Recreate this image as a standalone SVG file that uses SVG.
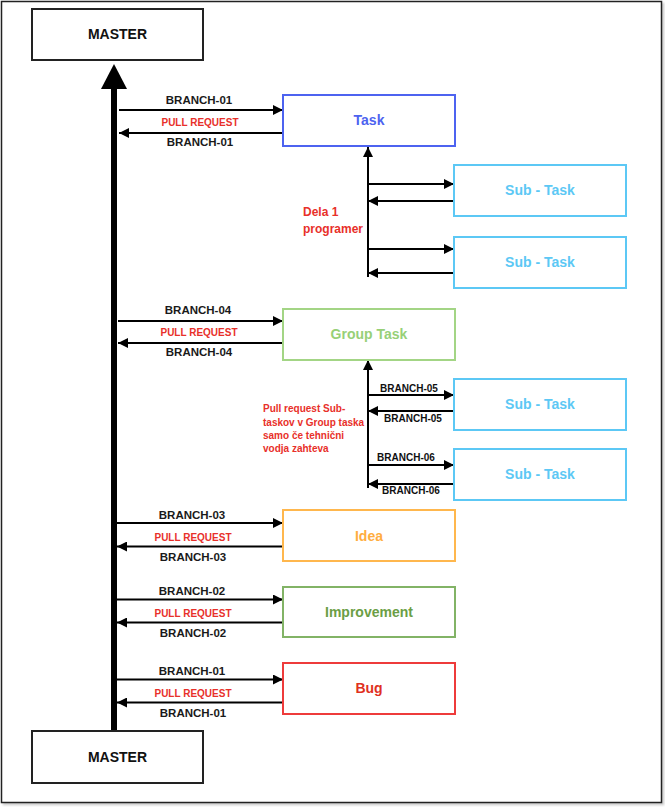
<svg xmlns="http://www.w3.org/2000/svg" width="665" height="807" viewBox="0 0 665 807">
<style>
.box{fill:#fff;stroke-width:2}
.lbl{font-family:"Liberation Sans",Arial,sans-serif;font-size:11.5px;font-weight:bold;fill:#1a1a1a;text-anchor:middle}
.slbl{font-family:"Liberation Sans",Arial,sans-serif;font-size:10px;font-weight:bold;fill:#111;text-anchor:middle}
.pr{font-family:"Liberation Sans",Arial,sans-serif;font-size:10px;font-weight:bold;fill:#e8302a;text-anchor:middle}
.note{font-family:"Liberation Sans",Arial,sans-serif;font-weight:bold;fill:#e8302a}
.ttl{font-family:"Liberation Sans",Arial,sans-serif;font-size:14px;font-weight:bold;text-anchor:middle}
.ln{stroke:#000;stroke-width:2;fill:none}
</style>
<defs>
<marker id="ah" viewBox="0 0 10 10" refX="10" refY="5" markerWidth="5" markerHeight="5" orient="auto" markerUnits="strokeWidth">
<path d="M0,0 L10,5 L0,10 Z" fill="#000"/>
</marker>
<filter id="sh" x="-5%" y="-5%" width="110%" height="110%">
<feDropShadow dx="2" dy="2" stdDeviation="1" flood-color="#000" flood-opacity="0.2"/>
</filter>
</defs>
<rect x="1.5" y="1.5" width="660" height="801" fill="#fff" stroke="#222" stroke-width="1.5" filter="url(#sh)"/>

<g id="connectors">
<line x1="114" y1="731" x2="114" y2="88" stroke="#000" stroke-width="6"/>
<polygon points="114,64 127,89 101,89" fill="#000"/>
<!-- Task -->
<line class="ln" x1="119" y1="110" x2="283" y2="110" marker-end="url(#ah)"/>
<line class="ln" x1="283" y1="133" x2="119" y2="133" marker-end="url(#ah)"/>
<line class="ln" x1="368" y1="277" x2="368" y2="147" marker-end="url(#ah)"/>
<line class="ln" x1="368" y1="184" x2="454" y2="184" marker-end="url(#ah)"/>
<line class="ln" x1="454" y1="201" x2="368" y2="201" marker-end="url(#ah)"/>
<line class="ln" x1="368" y1="249" x2="454" y2="249" marker-end="url(#ah)"/>
<line class="ln" x1="454" y1="273" x2="368" y2="273" marker-end="url(#ah)"/>
<!-- Group Task -->
<line class="ln" x1="118" y1="321" x2="283" y2="321" marker-end="url(#ah)"/>
<line class="ln" x1="283" y1="343" x2="118" y2="343" marker-end="url(#ah)"/>
<line class="ln" x1="368" y1="488" x2="368" y2="360" marker-end="url(#ah)"/>
<line class="ln" x1="368" y1="395" x2="454" y2="395" marker-end="url(#ah)"/>
<line class="ln" x1="454" y1="411" x2="368" y2="411" marker-end="url(#ah)"/>
<line class="ln" x1="368" y1="465" x2="454" y2="465" marker-end="url(#ah)"/>
<line class="ln" x1="454" y1="484" x2="368" y2="484" marker-end="url(#ah)"/>
<!-- Idea -->
<line class="ln" x1="117" y1="523" x2="283" y2="523" marker-end="url(#ah)"/>
<line class="ln" x1="283" y1="546.5" x2="117" y2="546.5" marker-end="url(#ah)"/>
<!-- Improvement -->
<line class="ln" x1="117" y1="599.5" x2="283" y2="599.5" marker-end="url(#ah)"/>
<line class="ln" x1="283" y1="622.5" x2="117" y2="622.5" marker-end="url(#ah)"/>
<!-- Bug -->
<line class="ln" x1="117" y1="679.5" x2="283" y2="679.5" marker-end="url(#ah)"/>
<line class="ln" x1="283" y1="702.5" x2="117" y2="702.5" marker-end="url(#ah)"/>

<text class="lbl" x="199" y="104">BRANCH-01</text>
<text class="pr" x="200" y="126">PULL REQUEST</text>
<text class="lbl" x="200" y="146">BRANCH-01</text>
<text class="lbl" x="198" y="314">BRANCH-04</text>
<text class="pr" x="199" y="336">PULL REQUEST</text>
<text class="lbl" x="199" y="356">BRANCH-04</text>
<text class="lbl" x="192" y="519">BRANCH-03</text>
<text class="pr" x="193" y="541">PULL REQUEST</text>
<text class="lbl" x="193" y="561">BRANCH-03</text>
<text class="lbl" x="192" y="595">BRANCH-02</text>
<text class="pr" x="193" y="617">PULL REQUEST</text>
<text class="lbl" x="193" y="637">BRANCH-02</text>
<text class="lbl" x="192" y="675">BRANCH-01</text>
<text class="pr" x="193" y="697">PULL REQUEST</text>
<text class="lbl" x="193" y="717">BRANCH-01</text>
<text class="slbl" x="409" y="392">BRANCH-05</text>
<text class="slbl" x="413" y="422">BRANCH-05</text>
<text class="slbl" x="406" y="461">BRANCH-06</text>
<text class="slbl" x="411" y="494">BRANCH-06</text>
<text class="note" font-size="12" x="303" y="216">Dela 1</text>
<text class="note" font-size="12" x="303" y="233">programer</text>
<text class="note" font-size="10" x="263" y="412">Pull request Sub-</text>
<text class="note" font-size="10" x="263" y="426">taskov v Group taska</text>
<text class="note" font-size="10" x="263" y="439">samo če tehnični</text>
<text class="note" font-size="10" x="263" y="452">vodja zahteva</text>
</g>

<g id="master-top">
<rect class="box" x="32" y="9" width="171" height="51" stroke="#222"/>
<text class="ttl" x="117.5" y="39" fill="#111">MASTER</text>
</g>
<g id="task">
<rect class="box" x="283" y="95" width="172" height="51" stroke="#4d63f0"/>
<text class="ttl" x="369" y="125" fill="#4d63f0" font-size="13">Task</text>
</g>
<g id="subtask-1">
<rect class="box" x="454" y="165" width="172" height="51" stroke="#5cc8f5"/>
<text class="ttl" x="540" y="195" fill="#5cc8f5" font-size="13.5">Sub - Task</text>
</g>
<g id="subtask-2">
<rect class="box" x="454" y="237" width="172" height="51" stroke="#5cc8f5"/>
<text class="ttl" x="540" y="267" fill="#5cc8f5" font-size="13.5">Sub - Task</text>
</g>
<g id="group-task">
<rect class="box" x="283" y="309" width="172" height="51" stroke="#a3d585"/>
<text class="ttl" x="369" y="339" fill="#97d077" font-size="13.5">Group Task</text>
</g>
<g id="subtask-3">
<rect class="box" x="454" y="379" width="172" height="51" stroke="#5cc8f5"/>
<text class="ttl" x="540" y="409" fill="#5cc8f5" font-size="13.5">Sub - Task</text>
</g>
<g id="subtask-4">
<rect class="box" x="454" y="449" width="172" height="51" stroke="#5cc8f5"/>
<text class="ttl" x="540" y="479" fill="#5cc8f5" font-size="13.5">Sub - Task</text>
</g>
<g id="idea">
<rect class="box" x="283" y="510" width="172" height="51" stroke="#ffb74d"/>
<text class="ttl" x="369" y="541" fill="#ffad40" font-size="13.5">Idea</text>
</g>
<g id="improvement">
<rect class="box" x="283" y="587" width="172" height="50" stroke="#82b366"/>
<text class="ttl" x="369" y="617" fill="#6b9e45">Improvement</text>
</g>
<g id="bug">
<rect class="box" x="283" y="663" width="172" height="51" stroke="#ee3b3b"/>
<text class="ttl" x="369" y="693" fill="#e0301e">Bug</text>
</g>
<g id="master-bottom">
<rect class="box" x="32" y="731" width="171" height="52" stroke="#222"/>
<text class="ttl" x="117.5" y="762" fill="#111">MASTER</text>
</g>
</svg>
